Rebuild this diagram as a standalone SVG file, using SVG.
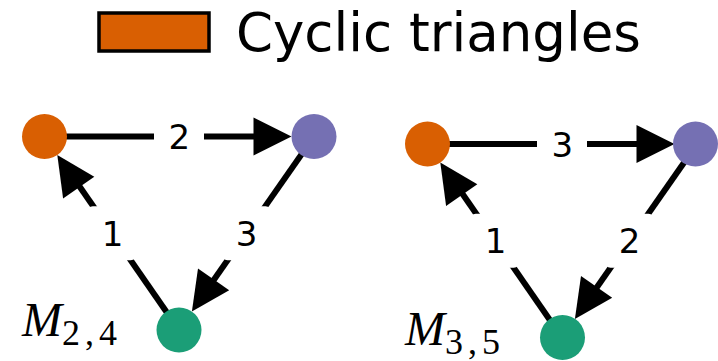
<svg xmlns="http://www.w3.org/2000/svg" width="718" height="361" viewBox="0 0 718 361">
<style>
.edge{stroke:#000;stroke-width:6;fill:none}
.head{fill:#000}
.lblbox{fill:#fff}
.lbl{font-family:"DejaVu Sans",sans-serif;font-size:34px;fill:#000;text-anchor:middle}
.orange{fill:#d95f02}
.purple{fill:#7570b3}
.green{fill:#1b9e77}
.m{font-family:"Liberation Serif",serif;fill:#000}
</style>
<rect width="718" height="361" fill="#fff"/>
<g id="legend">
<rect x="99" y="13" width="110" height="38" fill="#d95f02" stroke="#000" stroke-width="3.5"/>
<text x="236" y="51" font-family="DejaVu Sans, sans-serif" font-size="53" fill="#000">Cyclic triangles</text>
</g>
<g id="graph1">
<g id="connectors1">
<line class="edge" x1="44.5" y1="136.5" x2="258" y2="136.5"/>
<polygon class="head" points="291.5,136.5 253.5,117.5 253.5,155.5"/>
<line class="edge" x1="314" y1="136.5" x2="212" y2="282.5"/>
<polygon class="head" points="191.9,311.5 229.2,290.2 198.0,268.4"/>
<line class="edge" x1="179" y1="330" x2="77.5" y2="183.5"/>
<polygon class="head" points="57.3,155 94.3,176.7 63.1,198.4"/>
<rect class="lblbox" x="154" y="110.5" width="50" height="54" rx="6"/>
<text class="lbl" x="179.25" y="149">2</text>
<rect class="lblbox" x="221.5" y="206.25" width="50" height="54" rx="6"/>
<text class="lbl" x="246.5" y="245.5">3</text>
<rect class="lblbox" x="86.75" y="206.25" width="50" height="54" rx="6"/>
<text class="lbl" x="112.5" y="245.5">1</text>
</g>
<g id="n1_orange"><circle class="orange" cx="44.5" cy="136.5" r="22.5"/></g>
<g id="n1_purple"><circle class="purple" cx="314" cy="136.5" r="22.5"/></g>
<g id="n1_green"><circle class="green" cx="179" cy="330" r="22.5"/></g>
<g id="label1"><text class="m" x="22" y="336" font-size="48"><tspan font-style="italic">M</tspan><tspan font-size="36" dy="9" letter-spacing="5">2,4</tspan></text></g>
</g>
<g id="graph2" transform="translate(383,7.5)">
<g id="connectors2">
<line class="edge" x1="44.5" y1="136.5" x2="258" y2="136.5"/>
<polygon class="head" points="291.5,136.5 253.5,117.5 253.5,155.5"/>
<line class="edge" x1="314" y1="136.5" x2="212" y2="282.5"/>
<polygon class="head" points="191.9,311.5 229.2,290.2 198.0,268.4"/>
<line class="edge" x1="179" y1="330" x2="77.5" y2="183.5"/>
<polygon class="head" points="57.3,155 94.3,176.7 63.1,198.4"/>
<rect class="lblbox" x="154" y="110.5" width="50" height="54" rx="6"/>
<text class="lbl" x="179.25" y="149">3</text>
<rect class="lblbox" x="221.5" y="206.25" width="50" height="54" rx="6"/>
<text class="lbl" x="246.5" y="245.5">2</text>
<rect class="lblbox" x="86.75" y="206.25" width="50" height="54" rx="6"/>
<text class="lbl" x="112.5" y="245.5">1</text>
</g>
<g id="n2_orange"><circle class="orange" cx="44.5" cy="136.5" r="22.5"/></g>
<g id="n2_purple"><circle class="purple" cx="312.5" cy="136.5" r="22.5"/></g>
<g id="n2_green"><circle class="green" cx="179.5" cy="330" r="22.5"/></g>
<g id="label2"><text class="m" x="22" y="337.5" font-size="48"><tspan font-style="italic">M</tspan><tspan font-size="36" dy="9" letter-spacing="5">3,5</tspan></text></g>
</g>
</svg>
